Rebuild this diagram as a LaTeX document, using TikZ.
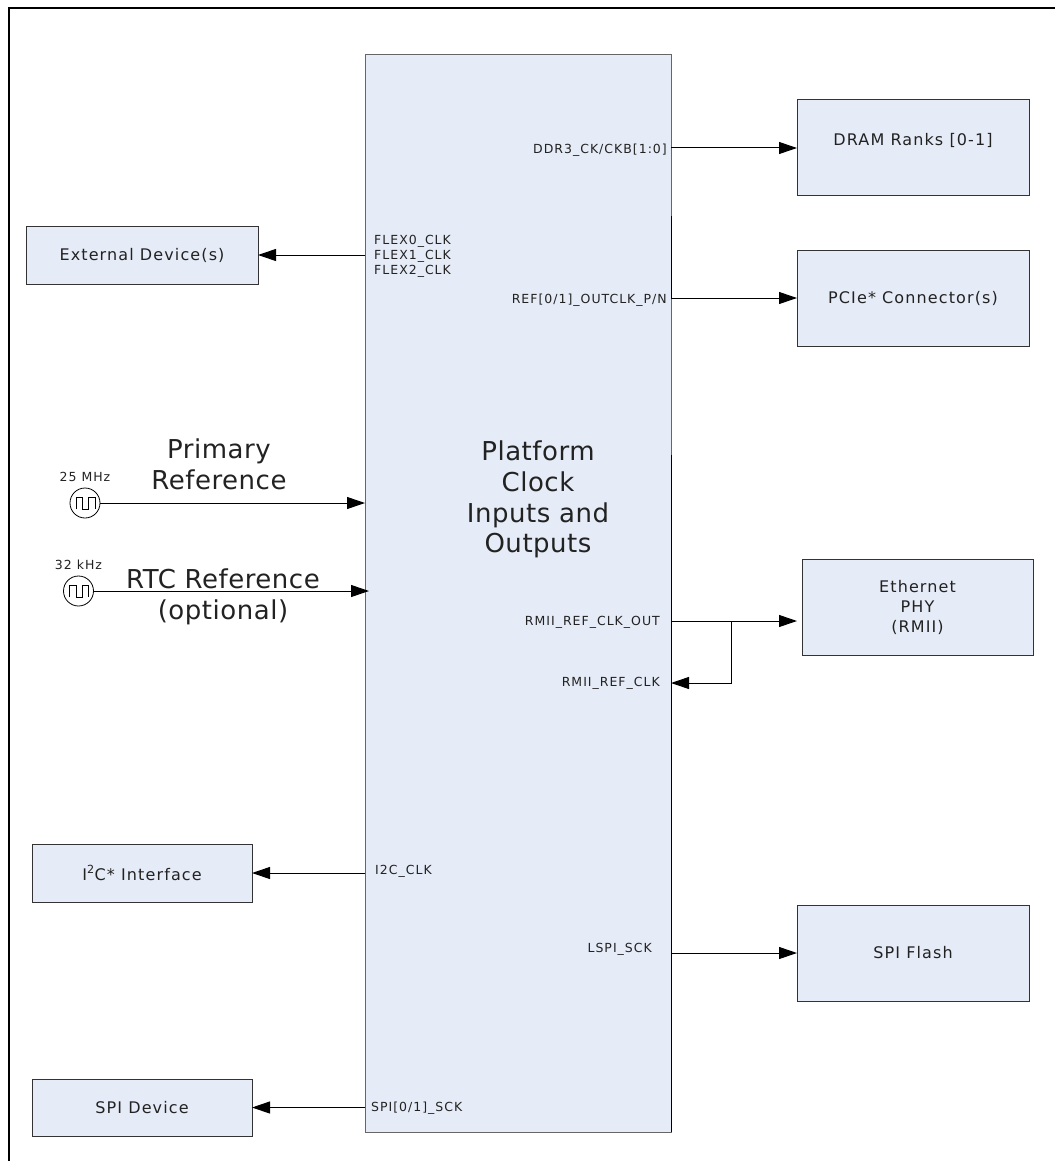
\documentclass[tikz,border=0pt]{standalone}
\usepackage{fontspec}
\setmainfont{DejaVu Sans}
\newfontfamily\pinfont[LetterSpace=8]{DejaVu Sans}
\newfontfamily\boxfont[LetterSpace=7]{DejaVu Sans}
\newfontfamily\bigfont[LetterSpace=2]{DejaVu Sans}
\usetikzlibrary{arrows.meta,positioning}
\definecolor{boxfill}{HTML}{E6ECF7}
\definecolor{inktext}{HTML}{222222}
\tikzset{
	devbox/.style={draw=black!80,fill=boxfill,line width=1pt,inner sep=0pt,outer sep=0pt,align=center,text=inktext,font=\boxfont\fontsize{16}{20}\selectfont},
	pinlabel/.style={inner sep=0pt,text=inktext,font=\pinfont\fontsize{12.5}{14}\selectfont},
	biglabel/.style={inner sep=0pt,align=center,text=inktext,font=\bigfont\fontsize{26}{30.7}\selectfont},
	osc/.style={draw,circle,minimum size=30pt,inner sep=0pt,outer sep=0pt,line width=.8pt,
		path picture={\draw[line width=.8pt] ([shift={(-9pt,-6pt)}]path picture bounding box.center) -- ++(0,12pt) -- ++(6.5pt,0) -- ++(0,-12pt) -- ++(6pt,0) -- ++(0,12pt) -- ++(6.5pt,0) -- ++(0,-12pt);}},
	sig/.style={line width=1pt,-{Triangle[length=18pt,width=12pt]}}
}
\begin{document}
\begin{tikzpicture}[x=1pt,y=-1pt]
	\useasboundingbox (0,0) rectangle (1055,1161);
	\draw[line width=2pt] (9,1161) -- (9,8) -- (1055,8);

	\node[devbox,draw=black!60,minimum width=306pt,minimum height=1077pt] (platform) at (518,593.5) {};
	\node[biglabel] (platformtext) at (538,499.5) {Platform\\Clock\\Inputs and\\Outputs};

	\node[devbox,minimum width=232pt,minimum height=96pt] (dram) at (913,148) {\raisebox{18pt}{DRAM Ranks [0-1]}};
	\node[devbox,minimum width=232pt,minimum height=96pt] (pcie) at (913,298) {PCIe* Connector(s)};
	\node[devbox,minimum width=231pt,minimum height=96pt] (phy) at (917.5,607) {Ethernet\\PHY\\(RMII)};
	\node[devbox,minimum width=232pt,minimum height=96pt] (flash) at (913,953) {SPI Flash};
	\node[devbox,minimum width=232pt,minimum height=58pt] (extdev) at (142,255) {External Device(s)};
	\node[devbox,minimum width=220pt,minimum height=58pt] (i2cdev) at (142,873) {I\textsuperscript{2}C* Interface};
	\node[devbox,minimum width=220pt,minimum height=57pt] (spidev) at (142,1107.5) {SPI Device};

	% pins
	\node[pinlabel,anchor=east] (ddrpin) at (667,150) {DDR3\_CK/CKB[1:0]};
	\node[pinlabel,anchor=east] (refpin) at (667,300) {REF[0/1]\_OUTCLK\_P/N};
	\node[pinlabel,anchor=east] (rmiiout) at (660,622) {RMII\_REF\_CLK\_OUT};
	\node[pinlabel,anchor=east] (rmiiin) at (660,683) {RMII\_REF\_CLK};
	\node[pinlabel,anchor=east] (lspipin) at (652,949) {LSPI\_SCK};
	\foreach \i [count=\n] in {0,1,2}
		\node[pinlabel,anchor=west] (flex\n) at (374,226+\n*15) {FLEX\i\_CLK};
	\node[pinlabel,anchor=west] (i2cpin) at (375,871) {I2C\_CLK};
	\node[pinlabel,anchor=west] (spipin) at (371,1108) {SPI[0/1]\_SCK};

	% darker parts of the right edge
	\draw[line width=1pt] (671,216) -- (671,298) (671,455) -- (671,1132);

	% clock sources
	\node[osc] (osca) at (85,503) {};
	\node[osc] (oscb) at (78.5,591) {};
	\node[pinlabel,above=6pt of osca] (freqa) {25 MHz};
	\node[pinlabel,above=6pt of oscb] (freqb) {32 kHz};
	\node[biglabel] (primary) at (219,464) {Primary\\Reference};
	\node[biglabel] (rtc) at (223,597) {RTC Reference\\(optional)};

	\coordinate (rtcin) at (369,591);
	\coordinate (split) at (731,621);
	\coordinate (phyin) at (797,621);

	\draw[sig] (osca) -- (platform.west |- osca);
	\draw[sig] (oscb) -- (rtcin);
	\draw[sig] (platform.west |- extdev) -- (extdev);
	\draw[sig] (platform.west |- i2cdev) -- (i2cdev);
	\draw[sig] (platform.west |- spidev) -- (spidev);
	\draw[sig] (platform.east |- dram) -- (dram);
	\draw[sig] (platform.east |- pcie) -- (pcie);
	\draw[sig] (platform.east |- flash) -- (flash);
	\draw[sig] (platform.east |- phyin) -- (phyin);
	\draw[sig] (split) |- (platform.east |- rmiiin);
\end{tikzpicture}
\end{document}
